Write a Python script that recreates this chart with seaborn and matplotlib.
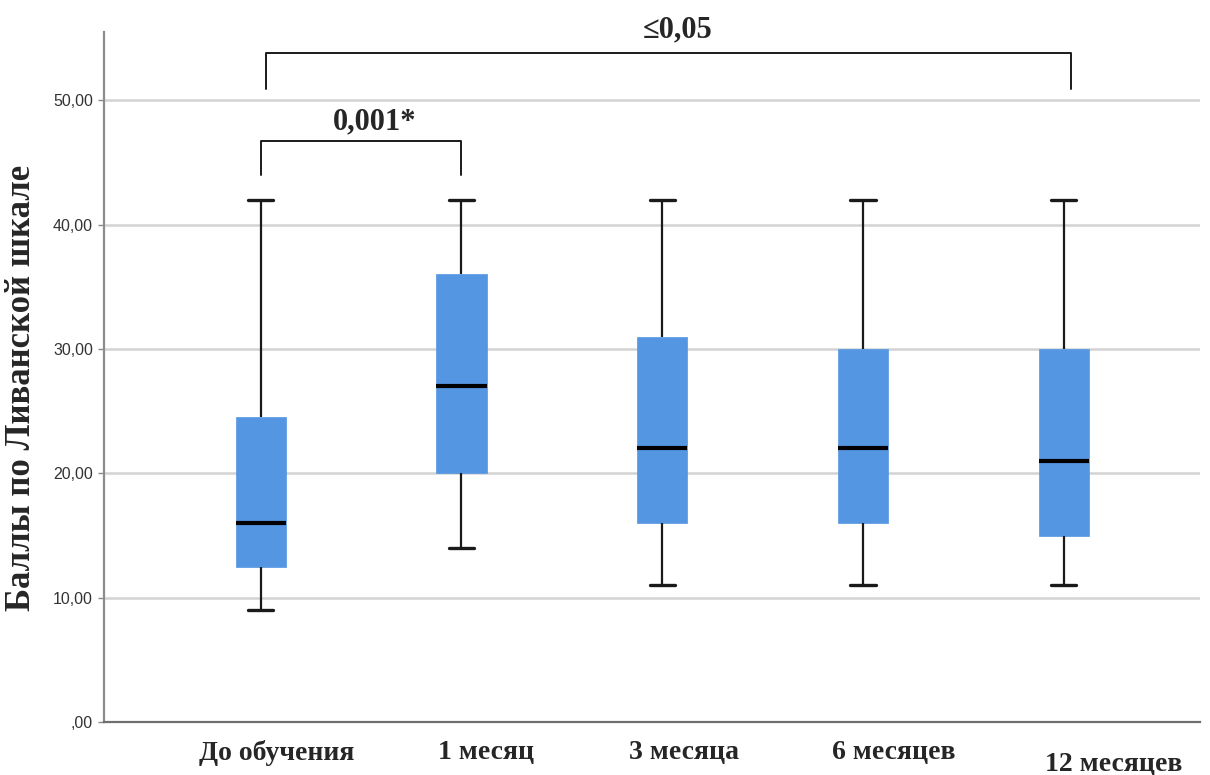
import numpy as np
import pandas as pd
import matplotlib
matplotlib.use("Agg")
import matplotlib.pyplot as plt
import matplotlib.transforms as mtransforms
import seaborn as sns

# Five-number summaries per period: min, Q1, median, Q3, max
periods = ["До обучения", "1 месяц", "3 месяца", "6 месяцев", "12 месяцев"]
score_min = [9, 14, 11, 11, 11]
score_q1 = [12.5, 20, 16, 16, 15]
score_median = [16, 27, 22, 22, 21]
score_q3 = [24.5, 36, 31, 30, 30]
score_max = [42, 42, 42, 42, 42]

y_ticks = [0, 10, 20, 30, 40, 50]
y_tick_labels = [",00", "10,00", "20,00", "30,00", "40,00", "50,00"]
y_label = "Баллы по Ливанской шкале"

# Comparison brackets: (left group, right group, label)
brackets = [(0, 1, "0,001*"), (0, 4, "≤0,05")]

rows = []
for name, a, b, c, d, e in zip(periods, score_min, score_q1, score_median, score_q3, score_max):
    for v in (a, b, c, d, e):
        rows.append({"period": name, "score": v})
df = pd.DataFrame(rows)

sns.set_theme(style="white")
plt.rcParams["font.family"] = ["Liberation Sans", "DejaVu Sans"]
serif = ["Liberation Serif", "DejaVu Serif"]

fig = plt.figure(figsize=(12.1, 7.75), dpi=100)
ax = fig.add_axes([0.086, 0.0684, 0.906, 0.8903])

box_color = "#5596e3"
sns.boxplot(
    data=df, x="period", y="score", order=periods, ax=ax,
    whis=(0, 100), width=0.25, color=box_color, saturation=1,
    linewidth=1.6, showfliers=False,
    boxprops=dict(facecolor=box_color, edgecolor=box_color, linewidth=0.5),
    medianprops=dict(color="black", linewidth=3),
    whiskerprops=dict(color="#1a1a1a", linewidth=1.6),
    capprops=dict(color="#1a1a1a", linewidth=2.4),
)

ax.set_xlim(-0.78, 4.68)
ax.set_ylim(0, 55.5)
ax.set_yticks(y_ticks)
ax.set_yticklabels(y_tick_labels, fontsize=11.5, color="#333333")
for yv in y_ticks[1:]:
    ax.axhline(yv, color="#d3d3d3", linewidth=1.8, zorder=0)

ax.set_xlabel("")
ax.set_ylabel(y_label, fontsize=25, fontweight="bold", family=serif)
ax.yaxis.set_label_coords(-0.0605, 0.484)
ax.tick_params(axis="x", length=0, pad=13)
ax.tick_params(axis="y", length=4, width=1, color="#888888", left=True, pad=4)

# Category labels sit a little right of their boxes; the last one drops lower
label_shift_px = [(16, 0), (25, 0), (22, 0), (31, 0), (50, -12)]
for lbl, (dx, dy) in zip(ax.get_xticklabels(), label_shift_px):
    lbl.set_fontsize(20)
    lbl.set_fontweight("bold")
    lbl.set_family(serif)
    lbl.set_transform(lbl.get_transform() +
                      mtransforms.ScaledTranslation(dx / 100, dy / 100,
                                                    fig.dpi_scale_trans))

for side in ("top", "right"):
    ax.spines[side].set_visible(False)
ax.spines["left"].set_color("#8c8c8c")
ax.spines["left"].set_linewidth(1.6)
ax.spines["bottom"].set_color("#6e6e6e")
ax.spines["bottom"].set_linewidth(1.6)

# Significance brackets: bar height, foot height, label position
bracket_geom = {
    (0, 1): dict(x=(0.0, 1.0), top=46.7, foot=44.0, tx=0.57, ty=48.3),
    (0, 4): dict(x=(0.025, 4.035), top=53.8, foot=50.9, tx=2.075, ty=55.7),
}
for g1, g2, label in brackets:
    g = bracket_geom[(g1, g2)]
    x1, x2 = g["x"]
    ax.plot([x1, x1, x2, x2], [g["foot"], g["top"], g["top"], g["foot"]],
            color="#1a1a1a", linewidth=1.4, clip_on=False)
    ax.text(g["tx"], g["ty"], label, ha="center", va="center", fontsize=22,
            fontweight="bold", family=serif, clip_on=False)

fig.savefig("out.png", dpi=100)
